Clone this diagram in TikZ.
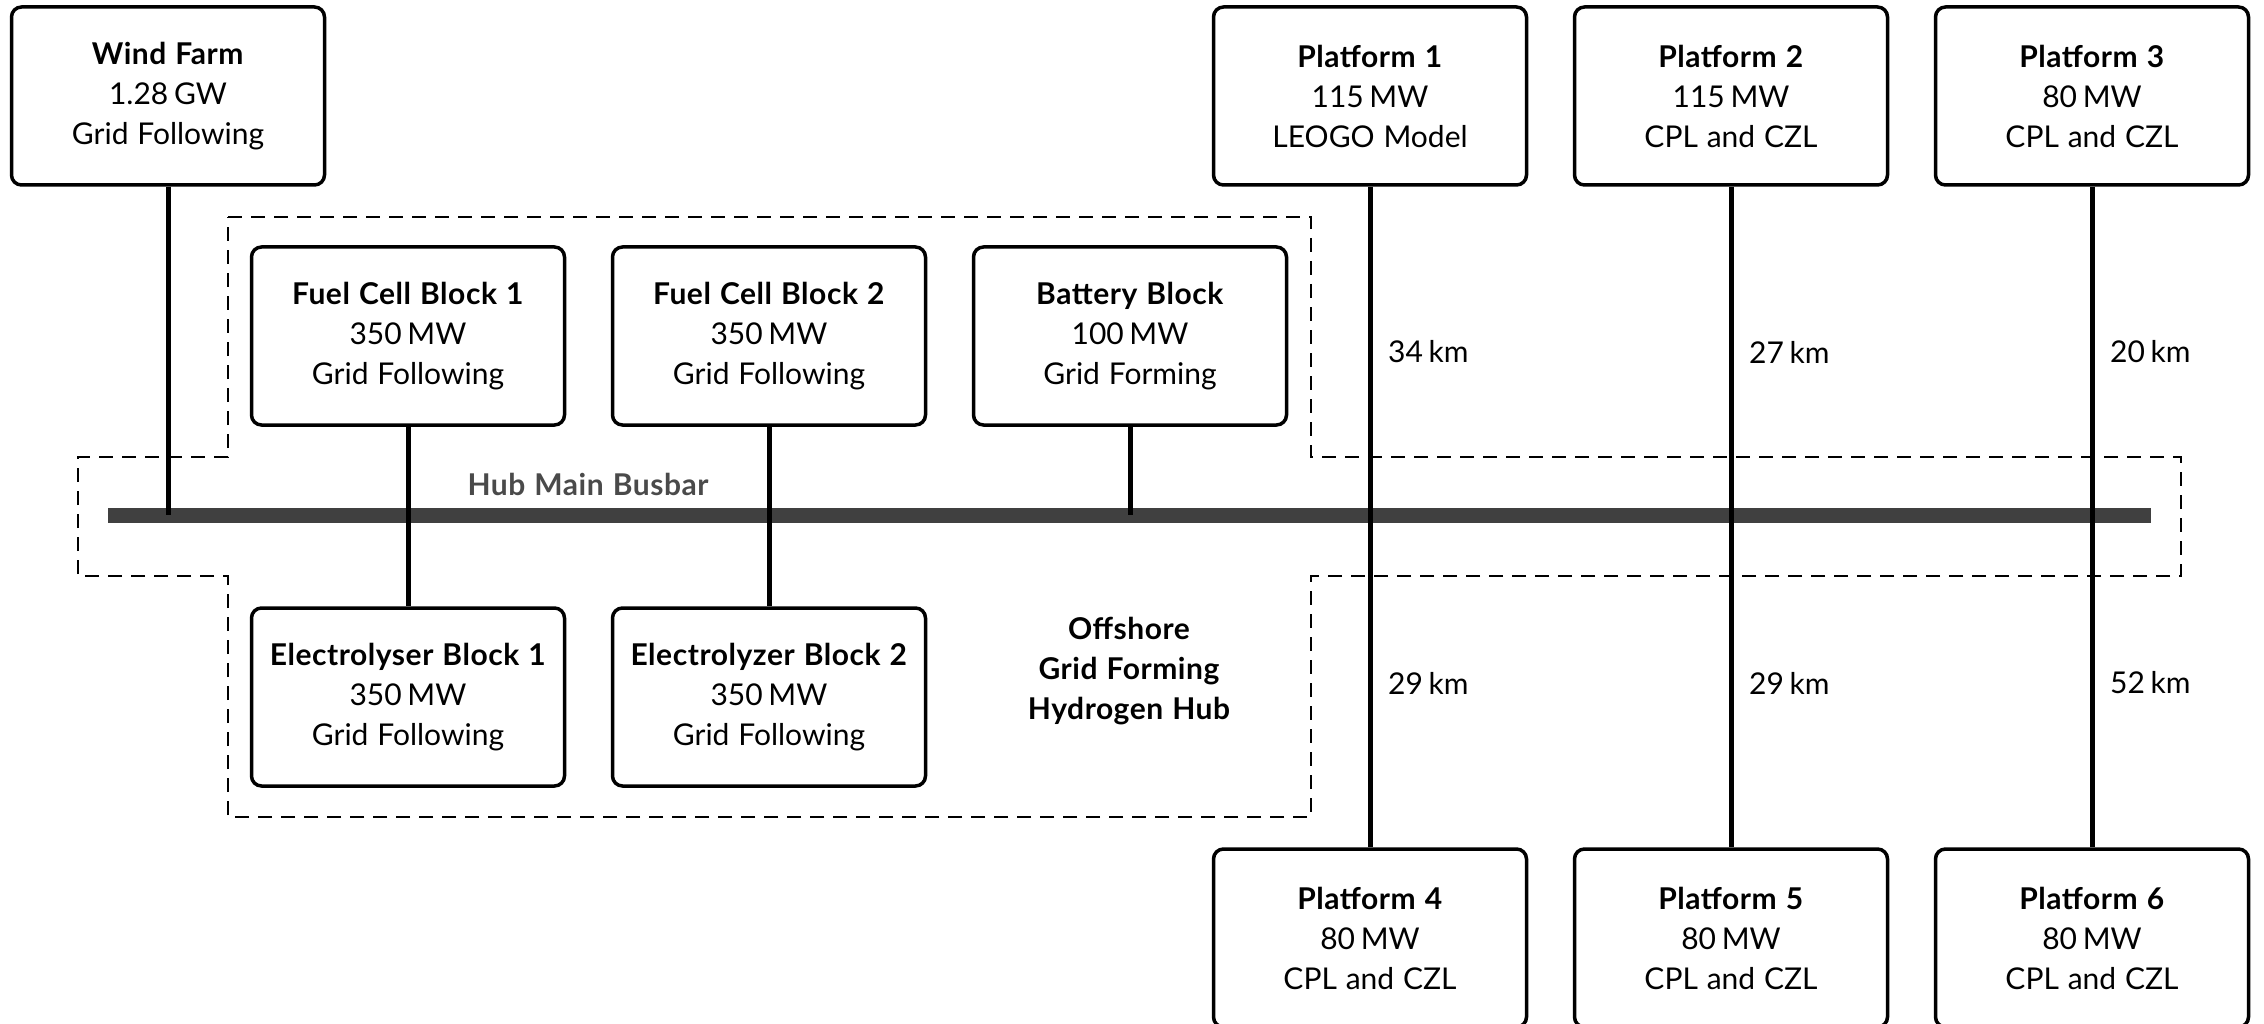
\documentclass[tikz,border=0pt]{standalone}
\usepackage{fontspec}
\setmainfont{Lato}[WordSpace=1.15, BoldFeatures={LetterSpace=1.8}]
\newcommand\usp{\hspace{0.19em}}
\definecolor{busgray}{HTML}{404040}
\definecolor{labgray}{HTML}{4A4A4A}
\tikzset{
  blk/.style={draw, line width=3.5pt, rounded corners=10pt, minimum width=313pt, minimum height=178pt, align=center, inner sep=0pt, font=\fontsize{30}{40}\selectfont},
  conn/.style={line width=5pt, black},
  bus/.style={line width=15pt, busgray},
  hubline/.style={line width=2pt, dash pattern=on 14pt off 9pt},
  dist/.style={font=\fontsize{30}{40}\selectfont, inner sep=0pt, anchor=west},
}
\begin{document}
\begin{tikzpicture}[x=1pt,y=-1pt]
\useasboundingbox (0,0) rectangle (2264,1024);
% dashed hub outline
\draw[hubline] (228,217) -- (1311,217) -- (1311,457) -- (2181,457) -- (2181,576) -- (1311,576) -- (1311,817) -- (228,817) -- (228,576) -- (78,576) -- (78,457) -- (228,457) -- cycle;
% nodes
\node[blk] (wind) at (168,96) {\textbf{Wind Farm}\\1.28\usp GW\\Grid Following};
\node[blk] (fc1) at (408,336) {\textbf{Fuel Cell Block 1}\\350\usp MW\\Grid Following};
\node[blk] (fc2) at (769,336) {\textbf{Fuel Cell Block 2}\\350\usp MW\\Grid Following};
\node[blk] (bat) at (1130,336) {\textbf{Battery Block}\\100\usp MW\\Grid Forming};
\node[blk] (el1) at (408,697) {\textbf{Electrolyser Block 1}\\350\usp MW\\Grid Following};
\node[blk] (el2) at (769,697) {\textbf{Electrolyzer Block 2}\\350\usp MW\\Grid Following};
\node[blk] (p1) at (1370,96) {\textbf{Platform 1}\\115\usp MW\\LEOGO Model};
\node[blk] (p2) at (1731,96) {\textbf{Platform 2}\\115\usp MW\\CPL and CZL};
\node[blk] (p3) at (2092,96) {\textbf{Platform 3}\\80\usp MW\\CPL and CZL};
\node[blk] (p4) at (1370,938) {\textbf{Platform 4}\\80\usp MW\\CPL and CZL};
\node[blk] (p5) at (1731,938) {\textbf{Platform 5}\\80\usp MW\\CPL and CZL};
\node[blk] (p6) at (2092,938) {\textbf{Platform 6}\\80\usp MW\\CPL and CZL};
% busbar
\coordinate (busL) at (108,515);
\coordinate (busR) at (2151,515);
\draw[bus] (busL) -- (busR);
\node[font=\fontsize{30}{40}\selectfont\bfseries, text=labgray, inner sep=0pt] (hublab) at (588,484) {Hub Main Busbar};
% connectors
\draw[conn] (wind.south) -- (wind.south |- busL);
\draw[conn] (bat.south) -- (bat.south |- busL);
\draw[conn] (fc1.south) -- (el1.north);
\draw[conn] (fc2.south) -- (el2.north);
\draw[conn] (p1.south) -- (p4.north);
\draw[conn] (p2.south) -- (p5.north);
\draw[conn] (p3.south) -- (p6.north);
% distances
\node[dist] (d1) at (1388,352) {34\usp km};
\node[dist] (d2) at (1749,352) {27\usp km};
\node[dist] (d3) at (2110,352) {20\usp km};
\node[dist] (d4) at (1388,683) {29\usp km};
\node[dist] (d5) at (1749,683) {29\usp km};
\node[dist] (d6) at (2110,683) {52\usp km};
% hub label
\node[font=\fontsize{30}{40}\selectfont\bfseries, align=center, inner sep=0pt] (hub) at (1129,671) {Offshore\\Grid Forming\\Hydrogen Hub};
\end{tikzpicture}
\end{document}
